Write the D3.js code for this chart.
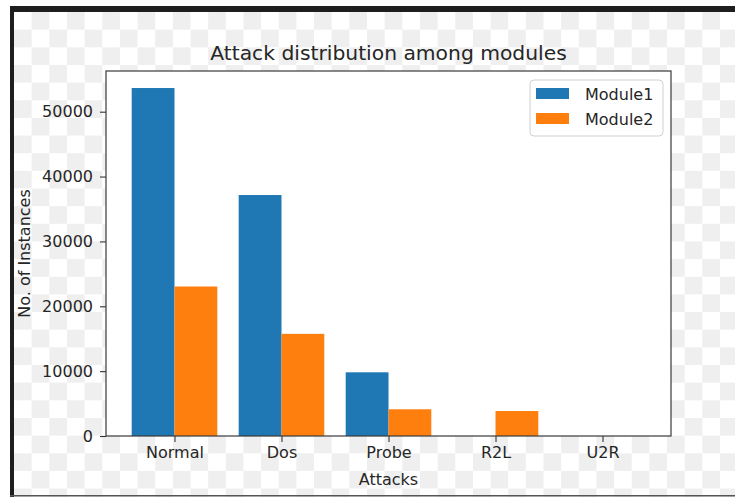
<!DOCTYPE html>
<html>
<head>
<meta charset="utf-8">
<script src="https://cdn.jsdelivr.net/npm/d3@7"></script>
<style>
  html, body { margin: 0; padding: 0; background: #ffffff; }
  svg { display: block; }
  text { font-family: "DejaVu Sans", sans-serif; fill: #262626; }
</style>
</head>
<body>
<svg id="chart" width="735" height="498"></svg>
<script>
// ---- data ----
const categories = ["Normal", "Dos", "Probe", "R2L", "U2R"];
const module1 = [53650, 37150, 9820, 0, 0];
const module2 = [23050, 15750, 4120, 3850, 0];
const seriesNames = ["Module1", "Module2"];
const yTicks = [0, 10000, 20000, 30000, 40000, 50000];
const titleText = "Attack distribution among modules";
const xLabel = "Attacks";
const yLabel = "No. of Instances";

(function () {
const colors = ["#1f77b4", "#ff7f0e"];
const W = 735, H = 498;
const svg = d3.select("#chart");

// ---- transparent-look checkerboard background with frame ----
const frameX = 14, frameY = 12, cell = 17.65;
const bg = svg.append("g");
bg.append("rect").attr("x", 0).attr("y", 0).attr("width", W).attr("height", H).attr("fill", "#ffffff");
const cols = d3.range(Math.ceil((W - frameX) / cell) + 1);
const rows = d3.range(Math.ceil((H - frameY) / cell) + 1);
rows.forEach(r => cols.forEach(c => {
  if ((r + c) % 2 === 1) {
    bg.append("rect")
      .attr("x", frameX + c * cell).attr("y", frameY + r * cell)
      .attr("width", cell).attr("height", cell).attr("fill", "#efefef");
  }
}));
// frame
bg.append("rect").attr("x", 10).attr("y", 6).attr("width", W - 10).attr("height", 6).attr("fill", "#1e1e1e");
bg.append("rect").attr("x", 10).attr("y", 6).attr("width", 4).attr("height", H - 6).attr("fill", "#1e1e1e");
bg.append("rect").attr("x", 10).attr("y", 495).attr("width", W - 10).attr("height", 1.5).attr("fill", "#555555");
bg.append("rect").attr("x", 0).attr("y", 497).attr("width", W).attr("height", 1).attr("fill", "#ffffff");

// ---- plot area ----
const pL = 106, pR = 671, pT = 71, pB = 436;
const x = d3.scaleLinear().domain([-0.64, 4.64]).range([pL, pR]);
const y = d3.scaleLinear().domain([0, 56275]).range([pB, pT]);
const bw = 0.4;

svg.append("rect").attr("x", pL).attr("y", pT)
  .attr("width", pR - pL).attr("height", pB - pT).attr("fill", "#ffffff");

const series = [module1, module2];
series.forEach((vals, s) => {
  svg.append("g").selectAll("rect").data(vals).join("rect")
    .attr("x", (d, i) => s === 0 ? x(i - bw) : x(i))
    .attr("width", x(bw) - x(0))
    .attr("y", d => y(d))
    .attr("height", d => y(0) - y(d))
    .attr("fill", colors[s]);
});

// axes
const xAxis = d3.axisBottom(x).tickValues(d3.range(categories.length))
  .tickFormat(i => categories[i]).tickSizeInner(6).tickSizeOuter(0).tickPadding(5);
const gx = svg.append("g").attr("transform", `translate(0,${pB})`).call(xAxis);
gx.select(".domain").remove();
gx.selectAll(".tick line").attr("stroke", "#333").attr("stroke-width", 1.1);
gx.selectAll(".tick text").attr("font-size", 16).attr("fill", "#262626")
  .attr("font-family", "DejaVu Sans, sans-serif");

const yAxis = d3.axisLeft(y).tickValues(yTicks).tickFormat(d3.format("d"))
  .tickSizeInner(6).tickSizeOuter(0).tickPadding(7);
const gy = svg.append("g").attr("transform", `translate(${pL},0)`).call(yAxis);
gy.select(".domain").remove();
gy.selectAll(".tick line").attr("stroke", "#333").attr("stroke-width", 1.1);
gy.selectAll(".tick text").attr("font-size", 16).attr("fill", "#262626")
  .attr("font-family", "DejaVu Sans, sans-serif");

// spines
svg.append("rect").attr("x", pL).attr("y", pT)
  .attr("width", pR - pL).attr("height", pB - pT)
  .attr("fill", "none").attr("stroke", "#3a3a3a").attr("stroke-width", 1.2);

// title and labels
svg.append("text").attr("x", (pL + pR) / 2).attr("y", 60)
  .attr("text-anchor", "middle").attr("font-size", 20.3).text(titleText);
svg.append("text").attr("x", (pL + pR) / 2).attr("y", 485)
  .attr("text-anchor", "middle").attr("font-size", 16).text(xLabel);
svg.append("text").attr("transform", `translate(30,${(pT + pB) / 2}) rotate(-90)`)
  .attr("text-anchor", "middle").attr("font-size", 16).text(yLabel);

// legend
const lg = svg.append("g");
lg.append("rect").attr("x", 530).attr("y", 80).attr("width", 133).attr("height", 56)
  .attr("rx", 4).attr("fill", "#ffffff").attr("stroke", "#d0d0d0").attr("stroke-width", 1);
seriesNames.forEach((name, i) => {
  lg.append("rect").attr("x", 536).attr("y", 88 + i * 25).attr("width", 33).attr("height", 11)
    .attr("fill", colors[i]);
  lg.append("text").attr("x", 585).attr("y", 99.5 + i * 25).attr("font-size", 16).text(name);
});
})();
</script>
</body>
</html>
